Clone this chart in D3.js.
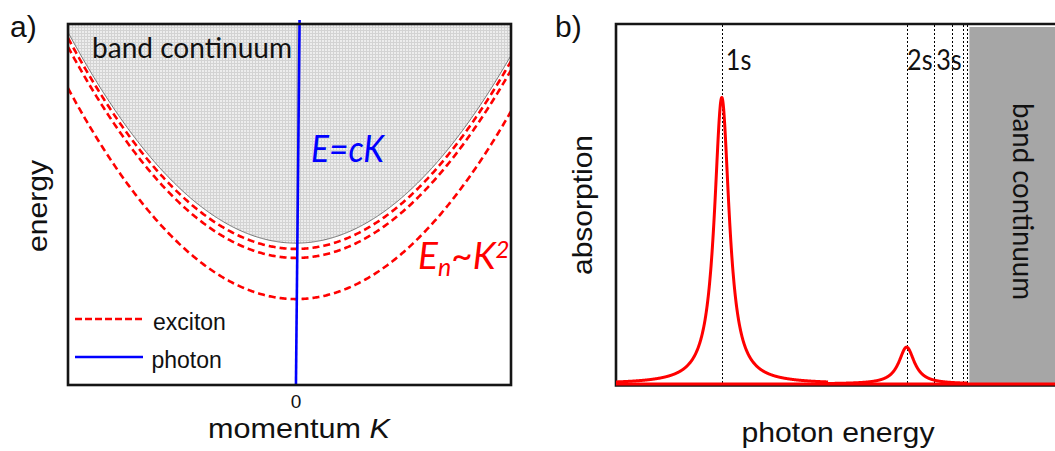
<!DOCTYPE html>
<html><head><meta charset="utf-8">
<script src="https://cdn.jsdelivr.net/npm/d3@7"></script>
<style>
  body { margin: 0; background: #fff; }
  svg { display: block; }
</style>
</head><body>
<svg id="chart" width="1055" height="451"></svg>
<script>
// ---- Panel a: exciton / photon dispersion ----
const momentumDomain = [-1.06, 1.0];
const energyDomainA = [0, 1];
const bandGap = 0.393;                          // bottom of the band continuum at K = 0
const excitonLevels = [0.238, 0.352, 0.377];    // E_n at K = 0 for n = 1, 2, 3
const dispersionCoef = 0.52;                    // E_n(K) = E_n + coef * K^2
const photonSlope = 60;                         // photon line E = cK
const momentumTicks = [0];
const legendItems = ["exciton", "photon"];

// ---- Panel b: absorption spectrum ----
const photonEnergyDomain = [0, 100];
const absorptionDomain = [0, 1.2];
const lineEnergies = [24.1, 66.2, 72.5, 76.5, 79.0, 79.9];   // 1s, 2s, 3s, 4s, 5s, 6s
const lineLabels = ["1s", "2s", "3s"];
const peakEnergies = [24.1, 66.2];
const peakHeights = [0.955, 0.123];
const peakWidths = [2.05, 2.15];
const peakRanges = [[0, 48.3], [48.3, 80]];
const continuumEdge = 80.5;

const svg = d3.select("#chart");
const RED = "#ff0000", BLUE = "#0000ff";
const ARIAL = "'Liberation Sans', Arial, sans-serif";
const CAL = "Lato, 'Open Sans', sans-serif";

const defs = svg.append("defs");
const pat = defs.append("pattern").attr("id", "grid")
  .attr("width", 3).attr("height", 3).attr("patternUnits", "userSpaceOnUse");
pat.append("rect").attr("width", 3).attr("height", 3).attr("fill", "#ededed");
pat.append("path").attr("d", "M0,0.5H3M0.5,0V3").attr("stroke", "#d3d3d3").attr("stroke-width", 1);

// ================= Panel a =================
const xA = d3.scaleLinear().domain(momentumDomain).range([68, 511]);
const yA = d3.scaleLinear().domain(energyDomainA).range([385, 24]);
const kGrid = d3.range(momentumDomain[0], momentumDomain[1] + 1e-9, 0.005);
const disp = e0 => k => e0 + dispersionCoef * k * k;

const gA = svg.append("g");
const bandE = disp(bandGap);

// band continuum region above the free-particle parabola
gA.append("path")
  .datum(kGrid)
  .attr("fill", "url(#grid)")
  .attr("d", d3.area().x(k => xA(k)).y0(yA(energyDomainA[1])).y1(k => yA(bandE(k))));
gA.append("path")
  .datum(kGrid)
  .attr("fill", "none").attr("stroke", "#555").attr("stroke-width", 0.8)
  .attr("d", d3.line().x(k => xA(k)).y(k => yA(bandE(k))));

// faint K = 0 guide inside the continuum
gA.append("line")
  .attr("x1", xA(0.005)).attr("x2", xA(0.005))
  .attr("y1", yA(energyDomainA[1])).attr("y2", yA(bandGap))
  .attr("stroke", "#9a9a9a").attr("stroke-width", 1);

// exciton branches
gA.selectAll("path.exc").data(excitonLevels).join("path")
  .attr("class", "exc")
  .attr("fill", "none").attr("stroke", RED).attr("stroke-width", 2.6)
  .attr("stroke-dasharray", "7,4")
  .attr("d", e0 => d3.line().x(k => xA(k)).y(k => yA(disp(e0)(k)))(kGrid));

// photon dispersion E = cK
const photonE = [0, 1.011];
gA.append("line")
  .attr("x1", xA(photonE[0] / photonSlope)).attr("y1", yA(photonE[0]))
  .attr("x2", xA(photonE[1] / photonSlope)).attr("y2", yA(photonE[1]))
  .attr("stroke", BLUE).attr("stroke-width", 2.6);

// frame
gA.append("rect")
  .attr("x", xA(momentumDomain[0])).attr("y", yA(energyDomainA[1]))
  .attr("width", xA(momentumDomain[1]) - xA(momentumDomain[0]))
  .attr("height", yA(energyDomainA[0]) - yA(energyDomainA[1]))
  .attr("fill", "none").attr("stroke", "#151515").attr("stroke-width", 2.6);

// tick label
gA.selectAll("text.tick").data(momentumTicks).join("text")
  .attr("class", "tick")
  .attr("x", d => xA(d)).attr("y", 408)
  .attr("text-anchor", "middle")
  .attr("font-family", ARIAL).attr("font-size", 19).attr("fill", "#111")
  .text(d => d);

// axis titles
const xt = gA.append("text")
  .attr("x", 299).attr("y", 438).attr("text-anchor", "middle")
  .attr("font-family", ARIAL).attr("font-size", 28).attr("fill", "#111")
  .attr("textLength", 182).attr("lengthAdjust", "spacingAndGlyphs");
xt.append("tspan").text("momentum ");
xt.append("tspan").attr("font-style", "italic").text("K");

gA.append("text")
  .attr("transform", "translate(47,206) rotate(-90)")
  .attr("text-anchor", "middle")
  .attr("font-family", ARIAL).attr("font-size", 28).attr("fill", "#111")
  .attr("textLength", 92).attr("lengthAdjust", "spacingAndGlyphs")
  .text("energy");

// annotations
gA.append("text")
  .attr("x", 92).attr("y", 58)
  .attr("font-family", CAL).attr("font-size", 29).attr("fill", "#111")
  .attr("textLength", 200).attr("lengthAdjust", "spacingAndGlyphs")
  .text("band continuum");

gA.append("text")
  .attr("x", 311).attr("y", 162)
  .attr("font-family", CAL).attr("font-style", "italic").attr("font-size", 37).attr("fill", BLUE)
  .attr("textLength", 73).attr("lengthAdjust", "spacingAndGlyphs")
  .text("E=cK");

const en = gA.append("text")
  .attr("x", 418).attr("y", 269)
  .attr("font-family", CAL).attr("font-style", "italic").attr("font-size", 37).attr("fill", RED);
en.append("tspan").text("E");
en.append("tspan").attr("font-size", 25).attr("dy", 7).text("n");
en.append("tspan").attr("dy", -7).text("~K");
en.append("tspan").attr("font-size", 24).attr("dy", -11).text("2");

// legend
const legY = [319, 357];
gA.append("line").attr("x1", 75).attr("x2", 145).attr("y1", legY[0]).attr("y2", legY[0])
  .attr("stroke", RED).attr("stroke-width", 2.6).attr("stroke-dasharray", "7,3");
gA.append("line").attr("x1", 75).attr("x2", 143).attr("y1", legY[1]).attr("y2", legY[1])
  .attr("stroke", BLUE).attr("stroke-width", 2.6);
gA.selectAll("text.leg").data(legendItems).join("text")
  .attr("class", "leg")
  .attr("x", (d, i) => i === 0 ? 153 : 151.5)
  .attr("y", (d, i) => legY[i] + 11)
  .attr("font-family", ARIAL).attr("font-size", 23).attr("fill", "#111")
  .text(d => d);

svg.append("text").attr("x", 10).attr("y", 37)
  .attr("font-family", ARIAL).attr("font-size", 30).attr("fill", "#111").text("a)");

// ================= Panel b =================
const xB = d3.scaleLinear().domain(photonEnergyDomain).range([616, 1055]);
const yB = d3.scaleLinear().domain(absorptionDomain).range([384, 24]);
const gB = svg.append("g");

// band continuum block
gB.append("rect")
  .attr("x", xB(continuumEdge)).attr("y", 27)
  .attr("width", xB(photonEnergyDomain[1]) - xB(continuumEdge) + 2)
  .attr("height", 356)
  .attr("fill", "#a6a6a6");

// frame (open on the right)
gB.append("path")
  .attr("d", `M${xB(photonEnergyDomain[1]) + 3},24H616V385.5H${xB(photonEnergyDomain[1]) + 3}`)
  .attr("fill", "none").attr("stroke", "#151515").attr("stroke-width", 2.6);

// exciton resonance markers
gB.selectAll("line.lvl").data(lineEnergies).join("line")
  .attr("class", "lvl")
  .attr("x1", d => Math.round(xB(d)) + 0.5).attr("x2", d => Math.round(xB(d)) + 0.5)
  .attr("y1", 25).attr("y2", 384)
  .attr("stroke", "#000").attr("stroke-width", 1)
  .attr("shape-rendering", "crispEdges")
  .attr("stroke-dasharray", "2,2");

// absorption: flat baseline plus Lorentzian resonances
const lorentz = i => e => peakHeights[i] / (1 + Math.pow((e - peakEnergies[i]) / peakWidths[i], 2));
gB.append("line")
  .attr("x1", xB(photonEnergyDomain[0])).attr("x2", xB(photonEnergyDomain[1]))
  .attr("y1", yB(0)).attr("y2", yB(0))
  .attr("stroke", RED).attr("stroke-width", 3);
peakEnergies.forEach((p, i) => {
  const grid = d3.range(peakRanges[i][0], peakRanges[i][1] + 1e-9, 0.05);
  gB.append("path")
    .datum(grid)
    .attr("fill", "none").attr("stroke", RED).attr("stroke-width", 3)
    .attr("stroke-linejoin", "round")
    .attr("d", d3.line().x(e => xB(e)).y(e => yB(lorentz(i)(e))));
});

// level labels
const labelOffsets = [4, 0.5, 2];
gB.selectAll("text.lvl").data(lineLabels).join("text")
  .attr("class", "lvl")
  .attr("x", (d, i) => xB(lineEnergies[i]) + labelOffsets[i]).attr("y", 70)
  .attr("font-family", CAL).attr("font-size", 28).attr("fill", "#111")
  .attr("textLength", 25.5).attr("lengthAdjust", "spacingAndGlyphs")
  .text(d => d);

gB.append("text")
  .attr("transform", "translate(1013,201.5) rotate(90)")
  .attr("text-anchor", "middle")
  .attr("font-family", CAL).attr("font-size", 29).attr("fill", "#111")
  .attr("textLength", 197).attr("lengthAdjust", "spacingAndGlyphs")
  .text("band continuum");

gB.append("text")
  .attr("transform", "translate(592,205) rotate(-90)")
  .attr("text-anchor", "middle")
  .attr("font-family", ARIAL).attr("font-size", 28).attr("fill", "#111")
  .attr("textLength", 140).attr("lengthAdjust", "spacingAndGlyphs")
  .text("absorption");

gB.append("text")
  .attr("x", 838).attr("y", 441.5).attr("text-anchor", "middle")
  .attr("font-family", ARIAL).attr("font-size", 28).attr("fill", "#111")
  .attr("textLength", 193).attr("lengthAdjust", "spacingAndGlyphs")
  .text("photon energy");

svg.append("text").attr("x", 555).attr("y", 37)
  .attr("font-family", ARIAL).attr("font-size", 30).attr("fill", "#111").text("b)");
</script>
</body></html>
